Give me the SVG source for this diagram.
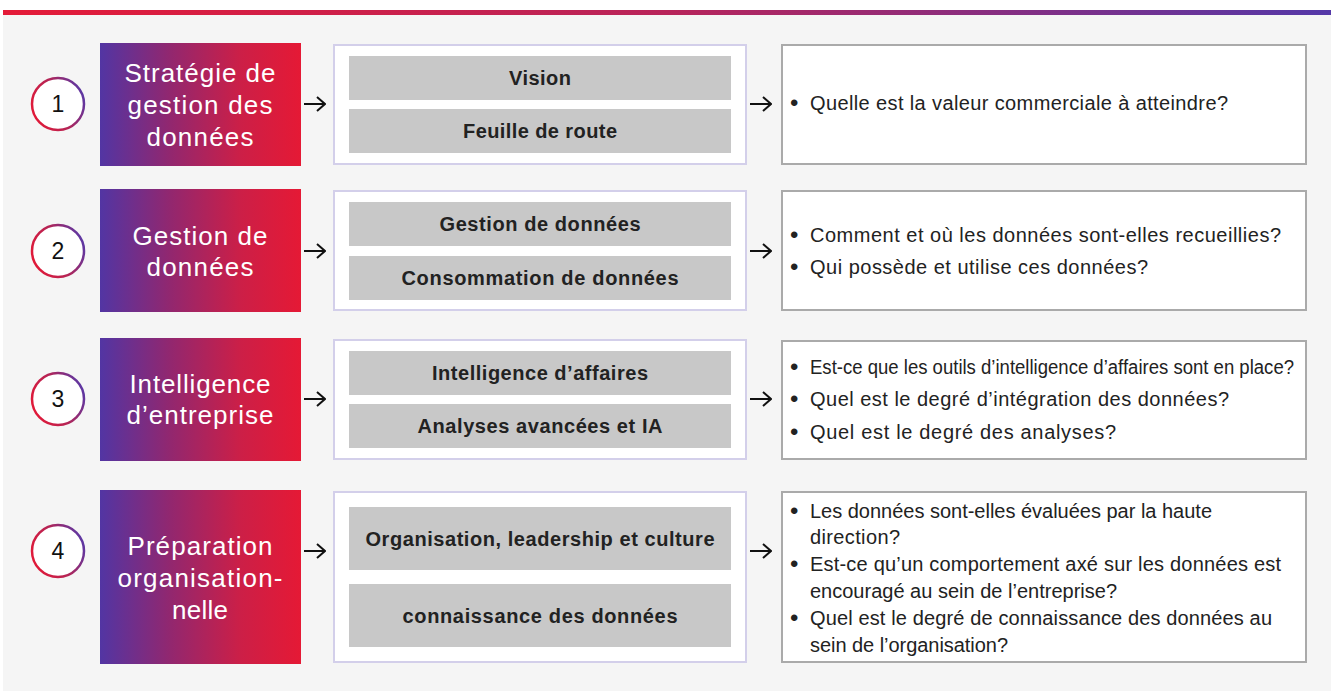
<svg xmlns="http://www.w3.org/2000/svg" width="1331" height="691" viewBox="0 0 1331 691">
<defs>
<linearGradient id="topbar" x1="0" y1="0" x2="1" y2="0"><stop offset="0" stop-color="#e41b38"/><stop offset="0.5" stop-color="#b8245a"/><stop offset="1" stop-color="#5438a8"/></linearGradient>
<linearGradient id="boxg" x1="0" y1="0" x2="1" y2="0"><stop offset="0" stop-color="#5235a3"/><stop offset="0.35" stop-color="#92276f"/><stop offset="0.7" stop-color="#cc1f47"/><stop offset="1" stop-color="#e51935"/></linearGradient>
<linearGradient id="ring" x1="0" y1="0.7" x2="1" y2="0.3"><stop offset="0" stop-color="#e31937"/><stop offset="0.5" stop-color="#b52455"/><stop offset="1" stop-color="#5a38a6"/></linearGradient>
<marker id="ah" viewBox="0 0 10 16" refX="9" refY="8" markerWidth="10" markerHeight="16" markerUnits="userSpaceOnUse" orient="auto"><path d="M1,1 L9,8 L1,15" fill="none" stroke="#111" stroke-width="2"/></marker>
</defs>
<style>
.step{fill:url(#boxg)}
.st{font-family:"Liberation Sans",Arial,sans-serif;font-size:26px;fill:#fff;text-anchor:middle}
.ring{fill:#fff;stroke:url(#ring);stroke-width:2.5}
.num{font-family:"Liberation Sans",Arial,sans-serif;font-size:23px;fill:#111;text-anchor:middle}
.mid{fill:#fff;stroke:#d3cfea;stroke-width:2}
.bar{fill:#c8c8c8}
.bt{font-family:"Liberation Sans",Arial,sans-serif;font-size:20px;font-weight:bold;fill:#222;text-anchor:middle}
.q{fill:#fff;stroke:#aaaaaa;stroke-width:2}
.qt{font-family:"Liberation Sans",Arial,sans-serif;font-size:20px;fill:#222}
.bl{font-family:"Liberation Sans",Arial,sans-serif;font-size:24px;fill:#222}
.conn line{stroke:#111;stroke-width:2;marker-end:url(#ah)}
</style>
<rect x="3" y="15" width="1328" height="676" fill="#f5f5f5"/>
<rect x="3" y="10" width="1328" height="5" fill="url(#topbar)"/>

<g id="row1">
<circle class="ring" cx="58" cy="104" r="26"/><text class="num" x="58" y="112">1</text>
<rect class="step" x="100" y="43" width="201" height="123"/>
<text class="st" x="200" y="82" textLength="151">Stratégie de</text><text class="st" x="200" y="114" textLength="145">gestion des</text><text class="st" x="200" y="146" textLength="107">données</text>
<rect class="mid" x="334" y="45" width="412" height="119"/>
<rect class="bar" x="349" y="56" width="382" height="44"/><text class="bt" x="540" y="85" textLength="62">Vision</text>
<rect class="bar" x="349" y="109" width="382" height="44"/><text class="bt" x="540" y="138" textLength="154">Feuille de route</text>
<rect class="q" x="782" y="45" width="524" height="119"/>
<text class="bl" x="790" y="111">•</text><text class="qt" x="810" y="110" textLength="418">Quelle est la valeur commerciale à atteindre?</text>
</g>

<g id="row2">
<circle class="ring" cx="58" cy="251" r="26"/><text class="num" x="58" y="259">2</text>
<rect class="step" x="100" y="189" width="201" height="123"/>
<text class="st" x="200" y="245" textLength="135">Gestion de</text><text class="st" x="200" y="276" textLength="107">données</text>
<rect class="mid" x="334" y="191" width="412" height="119"/>
<rect class="bar" x="349" y="202" width="382" height="44"/><text class="bt" x="540" y="231" textLength="201">Gestion de données</text>
<rect class="bar" x="349" y="256" width="382" height="44"/><text class="bt" x="540" y="285" textLength="277">Consommation de données</text>
<rect class="q" x="782" y="191" width="524" height="119"/>
<text class="bl" x="790" y="243">•</text><text class="qt" x="810" y="242" textLength="471">Comment et où les données sont-elles recueillies?</text>
<text class="bl" x="790" y="275">•</text><text class="qt" x="810" y="274" textLength="338">Qui possède et utilise ces données?</text>
</g>

<g id="row3">
<circle class="ring" cx="58" cy="399" r="26"/><text class="num" x="58" y="407">3</text>
<rect class="step" x="100" y="338" width="201" height="123"/>
<text class="st" x="200" y="393" textLength="141">Intelligence</text><text class="st" x="200" y="424" textLength="147">d’entreprise</text>
<rect class="mid" x="334" y="340" width="412" height="119"/>
<rect class="bar" x="349" y="351" width="382" height="44"/><text class="bt" x="540" y="380" textLength="216">Intelligence d’affaires</text>
<rect class="bar" x="349" y="404" width="382" height="44"/><text class="bt" x="540" y="433" textLength="245">Analyses avancées et IA</text>
<rect class="q" x="782" y="341" width="524" height="118"/>
<text class="bl" x="790" y="375">•</text><text class="qt" x="810" y="374" textLength="484" lengthAdjust="spacingAndGlyphs">Est-ce que les outils d’intelligence d’affaires sont en place?</text>
<text class="bl" x="790" y="407">•</text><text class="qt" x="810" y="406" textLength="419">Quel est le degré d’intégration des données?</text>
<text class="bl" x="790" y="440">•</text><text class="qt" x="810" y="439" textLength="306">Quel est le degré des analyses?</text>
</g>

<g id="row4">
<circle class="ring" cx="58" cy="551" r="26"/><text class="num" x="58" y="559">4</text>
<rect class="step" x="100" y="490" width="201" height="174"/>
<text class="st" x="200" y="555" textLength="145">Préparation</text><text class="st" x="200" y="587" textLength="165">organisation-</text><text class="st" x="200" y="619" textLength="56">nelle</text>
<rect class="mid" x="334" y="492" width="412" height="170"/>
<rect class="bar" x="349" y="507" width="382" height="63"/><text class="bt" x="540" y="546" textLength="349">Organisation, leadership et culture</text>
<rect class="bar" x="349" y="584" width="382" height="63"/><text class="bt" x="540" y="623" textLength="275">connaissance des données</text>
<rect class="q" x="782" y="492" width="524" height="170"/>
<text class="bl" x="790" y="519">•</text><text class="qt" x="810" y="518" textLength="402">Les données sont-elles évaluées par la haute</text>
<text class="qt" x="810" y="544" textLength="90">direction?</text>
<text class="bl" x="790" y="572">•</text><text class="qt" x="810" y="571" textLength="471">Est-ce qu’un comportement axé sur les données est</text>
<text class="qt" x="810" y="598" textLength="307">encouragé au sein de l’entreprise?</text>
<text class="bl" x="790" y="626">•</text><text class="qt" x="810" y="625" textLength="462">Quel est le degré de connaissance des données au</text>
<text class="qt" x="810" y="652" textLength="198">sein de l’organisation?</text>
</g>

<g id="connectors" class="conn">
<line x1="304" y1="104" x2="325" y2="104"/><line x1="750" y1="104" x2="771" y2="104"/>
<line x1="304" y1="251" x2="325" y2="251"/><line x1="750" y1="251" x2="771" y2="251"/>
<line x1="304" y1="399" x2="325" y2="399"/><line x1="750" y1="399" x2="771" y2="399"/>
<line x1="304" y1="551" x2="325" y2="551"/><line x1="750" y1="551" x2="771" y2="551"/>
</g>
</svg>
